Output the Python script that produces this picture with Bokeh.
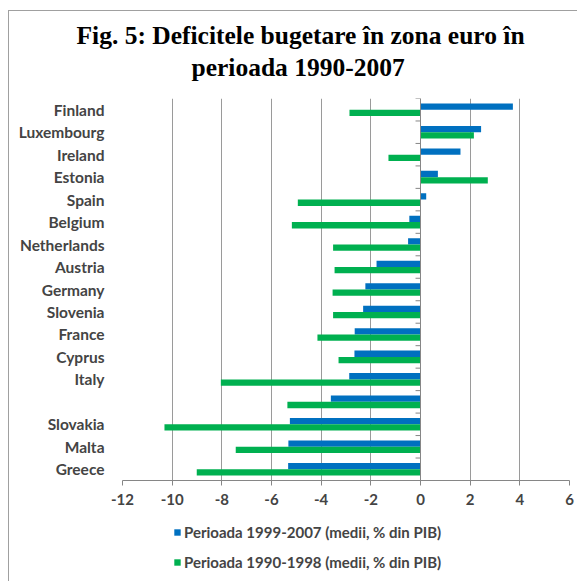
from bokeh.plotting import figure
from bokeh.layouts import column
from bokeh.models import ColumnDataSource, FactorRange, Legend, LegendItem, Span, FixedTicker, Title, Range1d
from bokeh.transform import dodge
from bokeh.embed import file_html
from bokeh.resources import INLINE

countries = ["Finland", "Luxembourg", "Ireland", "Estonia", "Spain", "Belgium", "Netherlands",
             "Austria", "Germany", "Slovenia", "France", "Cyprus", "Italy", " ",
             "Slovakia", "Malta", "Greece"]
p_1999_2007 = [3.72, 2.44, 1.61, 0.70, 0.23, -0.45, -0.50, -1.77, -2.22, -2.31, -2.65, -2.66,
               -2.87, -3.61, -5.26, -5.32, -5.33]
p_1990_1998 = [-2.86, 2.15, -1.29, 2.71, -4.94, -5.18, -3.52, -3.46, -3.54, -3.52, -4.15, -3.30,
               -8.04, -5.36, -10.31, -7.44, -9.01]
x_ticks = [-12, -10, -8, -6, -4, -2, 0, 2, 4, 6]
series_names = ["Perioada 1999-2007 (medii, % din PIB)", "Perioada 1990-1998 (medii, % din PIB)"]

BLUE = "#0070C0"
GREEN = "#00B050"
GRID = "#9a9a9a"
FONT = "Lato"

factors = list(reversed(countries))
src = ColumnDataSource(dict(country=countries, a=p_1999_2007, b=p_1990_1998,
                            zero=[0] * len(countries), tick=[-0.2] * len(countries)))

p = figure(width=568, height=505, y_range=FactorRange(factors=factors, range_padding=0),
           x_range=(-12, 6), output_backend="svg", toolbar_location=None,
           min_border_left=113, min_border_right=8, min_border_top=87, min_border_bottom=36)

t2 = Title(text="perioada 1990-2007", align="left", text_font="Liberation Serif",
           text_font_size="25.5px", text_font_style="bold", text_color="#000000",
           standoff=33, offset=69)
t1 = Title(text="Fig. 5: Deficitele bugetare în zona euro în", align="left",
           text_font="Liberation Serif", text_font_size="25.5px", text_font_style="bold",
           text_color="#000000", standoff=0, offset=-46)
try:
    t1.standoff = -30
except Exception:
    t1.standoff = 0
    t2.standoff = 24
p.add_layout(t2, "above")
p.add_layout(t1, "above")

r1 = p.hbar(y=dodge("country", 0.14, range=p.y_range), right="a", left="zero", height=0.28,
            source=src, color=BLUE, line_color=None)
r2 = p.hbar(y=dodge("country", -0.14, range=p.y_range), right="b", left="zero", height=0.28,
            source=src, color=GREEN, line_color=None)

# vertical axis line at zero with category-boundary ticks
p.add_layout(Span(location=0, dimension="height", line_color="#868686", line_width=1))
p.segment(x0="tick", x1="zero", y0=dodge("country", 0.5, range=p.y_range),
          y1=dodge("country", 0.5, range=p.y_range), source=src, line_color="#868686", line_width=1)

p.xaxis.ticker = FixedTicker(ticks=x_ticks)
p.xaxis.major_label_overrides = {t: str(t) for t in x_ticks}
p.xgrid.ticker = FixedTicker(ticks=x_ticks)
p.xgrid.grid_line_color = GRID
p.ygrid.grid_line_color = None
p.outline_line_color = None

p.xaxis.axis_line_color = "#868686"
p.xaxis.major_tick_line_color = "#868686"
p.xaxis.major_tick_out = 5
p.xaxis.major_tick_in = 0
p.xaxis.minor_tick_line_color = None
p.xaxis.major_label_text_font = FONT
p.xaxis.major_label_text_font_style = "bold"
p.xaxis.major_label_text_font_size = "15px"
p.xaxis.major_label_standoff = 8

p.yaxis.axis_line_color = None
p.yaxis.major_tick_line_color = None
p.yaxis.major_label_text_font = FONT
p.yaxis.major_label_text_font_style = "bold"
p.yaxis.major_label_text_font_size = "15.5px"
p.yaxis.major_label_standoff = 12

# legend strip below the chart (its renderers share the data but lie outside its view)
lg = figure(width=568, height=66, output_backend="svg", toolbar_location=None,
            x_axis_location=None, y_axis_location=None, min_border=0,
            x_range=Range1d(1000, 1001), y_range=Range1d(1000, 1001))
lg.outline_line_color = None
lg.grid.visible = False
d1 = lg.hbar(y="a", right="a", left="zero", height=0.28, source=src, color=BLUE, line_color=None)
d2 = lg.hbar(y="b", right="b", left="zero", height=0.28, source=src, color=GREEN, line_color=None)
legend = Legend(items=[LegendItem(label=series_names[0], renderers=[d1]),
                       LegendItem(label=series_names[1], renderers=[d2])],
                orientation="vertical", location=(51, 11), margin=0, padding=0,
                glyph_width=8, glyph_height=8, label_height=18, spacing=12, label_standoff=3,
                label_text_font=FONT, label_text_font_style="bold", label_text_font_size="15px",
                border_line_color=None, background_fill_alpha=0)
lg.add_layout(legend, "center")

layout = column(p, lg, spacing=0)
layout.margin = (10, 0, 0, 8)
layout.styles = {"border": "1px solid #a0a0a0"}

open("out.html", "w").write(file_html(layout, INLINE))
